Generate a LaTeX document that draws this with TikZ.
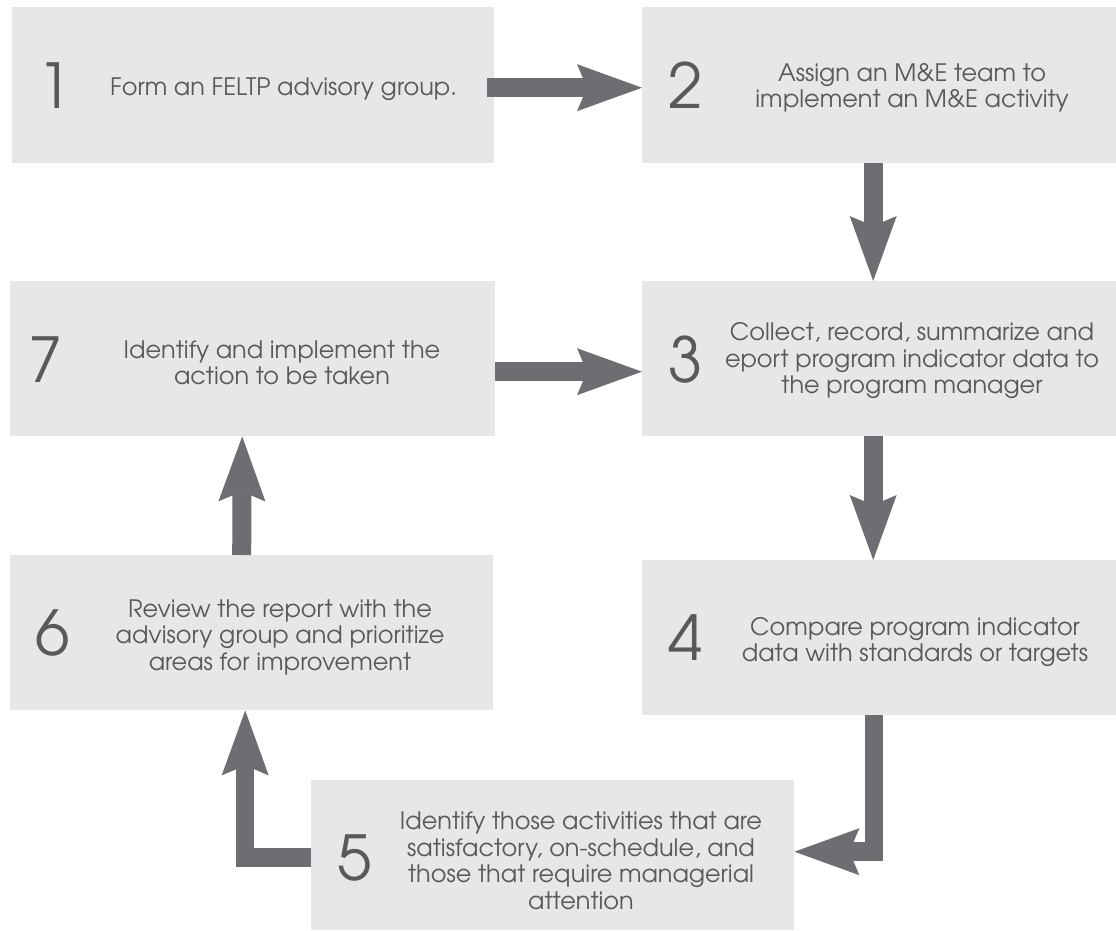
\documentclass[tikz,border=0pt]{standalone}
\usepackage{fontspec}
\setmainfont{TeX Gyre Adventor}
\usetikzlibrary{arrows.meta}
\definecolor{boxfill}{HTML}{E6E7E8}
\definecolor{arrowgray}{HTML}{6D6E71}
\definecolor{textgray}{HTML}{58595B}
\tikzset{
  box/.style={fill=boxfill, draw=none, anchor=north west, inner sep=0pt},
  numlabel/.style={text=textgray, font=\fontsize{62}{62}\selectfont, inner sep=0pt},
  steptext/.style={text=textgray, font=\fontsize{24}{26.5}\selectfont, align=center, inner sep=0pt},
  bigarrow/.style={draw=arrowgray, line width=19pt, line join=miter,
    -{Stealth[length=65pt, width=47pt, inset=10pt, line width=0pt, fill=arrowgray]}}
}
\begin{document}
\begin{tikzpicture}[x=1pt, y=-1pt]
\useasboundingbox (0,0) rectangle (1116,930);
% boxes
\node[box, minimum width=482pt, minimum height=156pt] (b1) at (12,7) {};
\node[box, minimum width=474pt, minimum height=156pt] (b2) at (642,7) {};
\node[box, minimum width=474pt, minimum height=155pt] (b3) at (642,281) {};
\node[box, minimum width=474pt, minimum height=155pt] (b4) at (642,560) {};
\node[box, minimum width=483pt, minimum height=150pt] (b5) at (311,780) {};
\node[box, minimum width=483pt, minimum height=155pt] (b6) at (10,555) {};
\node[box, minimum width=485pt, minimum height=155pt] (b7) at (10,281) {};
% numbers
\node[numlabel] (n1) at (55,86) {1};
\node[numlabel] (n2) at (686,85) {2};
\node[numlabel] (n3) at (686,360) {3};
\node[numlabel] (n4) at (686,638) {4};
\node[numlabel] (n5) at (355,858) {5};
\node[numlabel] (n6) at (53,633) {6};
\node[numlabel] (n7) at (46,360) {7};
% texts
\node[steptext, anchor=west] (t1) at (110,89) {Form an FELTP advisory group.};
\node[steptext] (t2) at (912,88) {Assign an M\&E team to\\implement an M\&E activity};
\node[steptext] (t3) at (912,361) {Collect, record, summarize and\\eport program indicator data to\\the program manager};
\node[steptext] (t4) at (915,642) {Compare program indicator\\data with standards or targets};
\node[steptext] (t5) at (581,861) {Identify those activities that are\\satisfactory, on-schedule, and\\those that require managerial\\attention};
\node[steptext] (t6) at (280,637) {Review the report with the\\advisory group and prioritize\\areas for improvement};
\node[steptext] (t7) at (282,363) {Identify and implement the\\action to be taken};
% arrows
\draw[bigarrow] ([shift={(-7,2.5)}]b1.east) -- ([shift={(0,2.5)}]b2.west);
\draw[bigarrow] ([shift={(-6,0)}]b2.south) -- ([shift={(-6,0)}]b3.north);
\draw[bigarrow] ([shift={(-6,0)}]b3.south) -- ([shift={(-6,0)}]b4.north);
\draw[bigarrow, line width=18.5pt] ([shift={(-5,0)}]b4.south) |- ([shift={(0,-3.5)}]b5.east);
\draw[bigarrow, line width=18.5pt] ([shift={(0,2.5)}]b5.west) -| ([shift={(-6.5,0)}]b6.south);
\draw[bigarrow] ([shift={(-10,0)}]b6.north) -- ([shift={(-10.5,0)}]b7.south);
\draw[bigarrow] ([shift={(0,13)}]b7.east) -- ([shift={(0,13)}]b3.west);
\end{tikzpicture}
\end{document}
